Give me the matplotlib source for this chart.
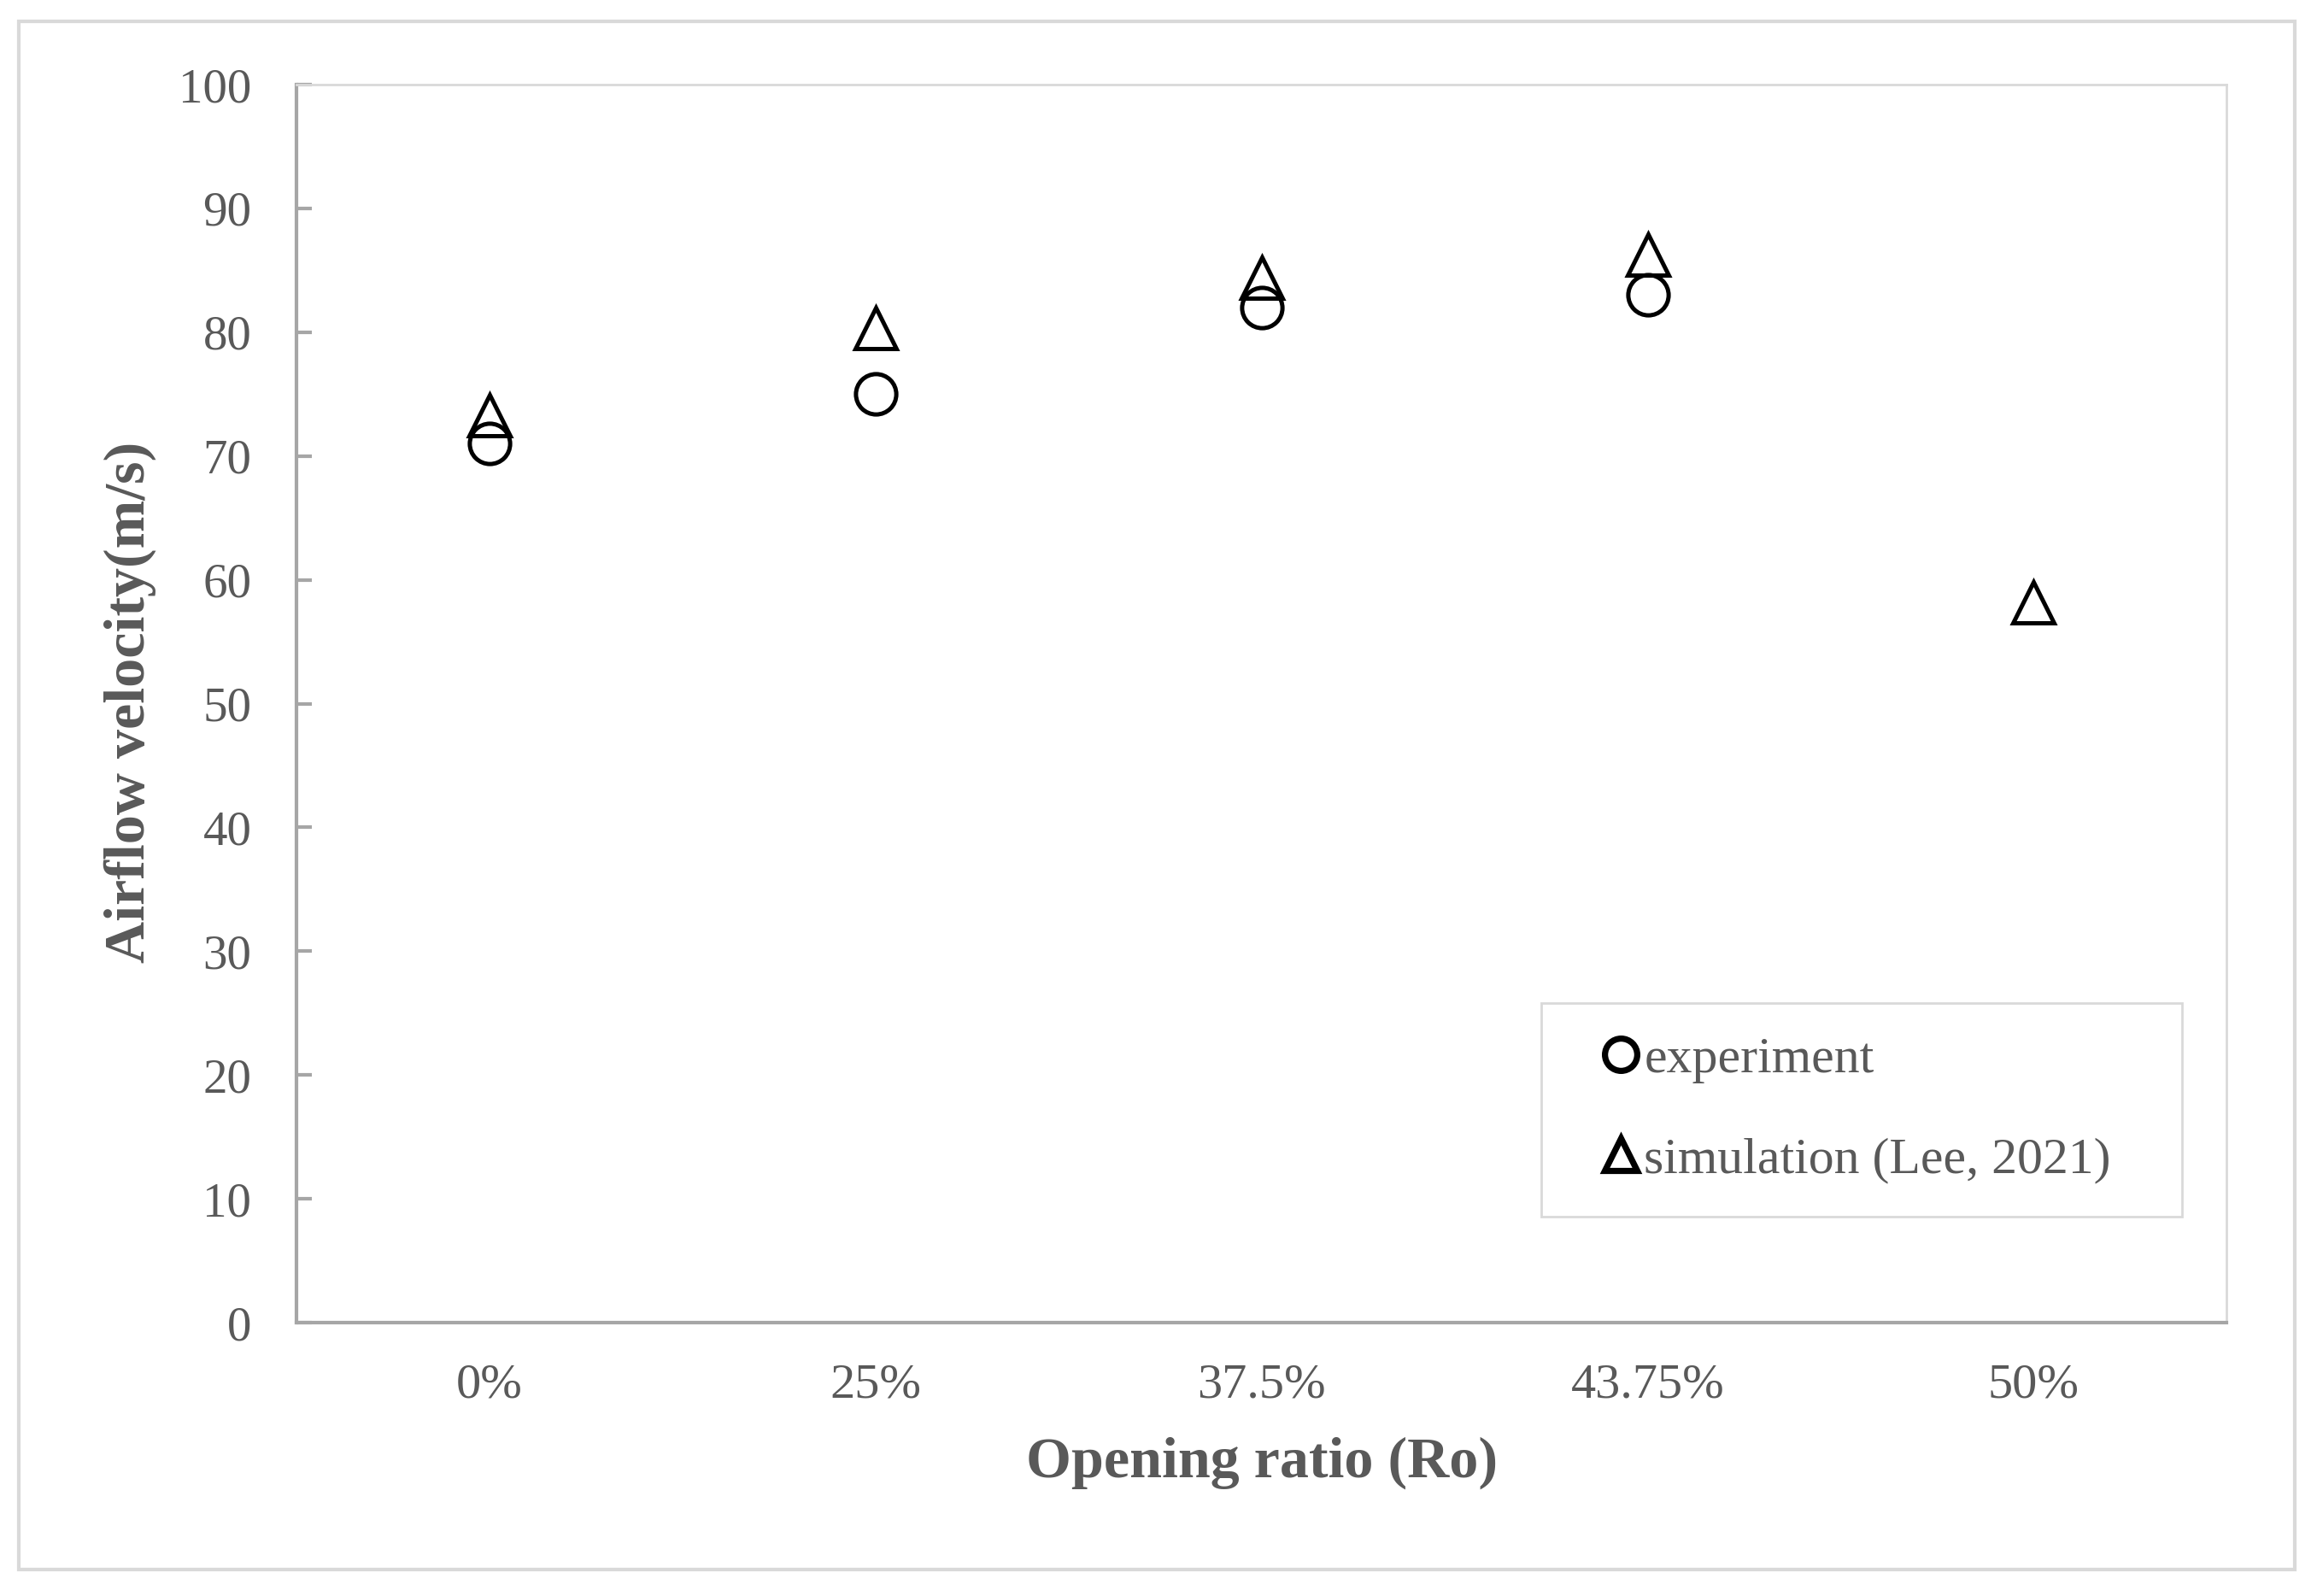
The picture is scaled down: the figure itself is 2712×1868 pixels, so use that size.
import matplotlib
matplotlib.use("Agg")
import matplotlib.pyplot as plt
from matplotlib.patches import Rectangle
import numpy as np

categories = ["0%", "25%", "37.5%", "43.75%", "50%"]
experiment = [71.0, 75.0, 82.0, 83.0, np.nan]
simulation = [73.3, 80.3, 84.4, 86.3, 58.2]
yticks = [0, 10, 20, 30, 40, 50, 60, 70, 80, 90, 100]

plt.rcParams['font.family'] = ['Liberation Serif', 'DejaVu Serif']
gray_text = '#595959'

fig = plt.figure(figsize=(13.56, 9.34), dpi=200)
ax = fig.add_axes([0.128, 0.1713, 0.833, 0.7757])

x = np.arange(len(categories))
ax.plot(x, experiment, linestyle='none', marker='o', markersize=17,
        markerfacecolor='none', markeredgecolor='black', markeredgewidth=1.8,
        label='experiment', zorder=3)
ax.plot(x, simulation, linestyle='none', marker='^', markersize=17,
        markerfacecolor='none', markeredgecolor='black', markeredgewidth=1.8,
        label='simulation (Lee, 2021)', zorder=3)

ax.set_xlim(-0.5, len(categories) - 0.5)
ax.set_ylim(0, 100)
ax.set_xticks(x)
ax.set_xticklabels(categories)
ax.set_yticks(yticks)

ax.tick_params(axis='y', direction='in', length=6.5, width=1.5, color='#a6a6a6',
               labelsize=20.5, labelcolor=gray_text, pad=19)
ax.tick_params(axis='x', length=0, labelsize=21, labelcolor=gray_text, pad=17)

for s in ['left', 'bottom']:
    ax.spines[s].set_color('#a6a6a6')
    ax.spines[s].set_linewidth(1.5)
for s in ['top', 'right']:
    ax.spines[s].set_color('#d9d9d9')
    ax.spines[s].set_linewidth(1.0)

ax.set_xlabel('Opening ratio (Ro)', fontsize=24.5, fontweight='bold', color=gray_text, va='center')
ax.xaxis.set_label_coords(0.5, -0.113)
ax.set_ylabel('Airflow velocity(m/s)', fontsize=24.5, fontweight='bold', color=gray_text, va='center')
ax.yaxis.set_label_coords(-0.0863, 0.501)

leg = ax.legend(loc='upper left', bbox_to_anchor=(0.645, 0.095, 0.332, 0.163),
                mode='expand', fontsize=21.5, markerscale=0.8, borderpad=0.65,
                labelspacing=1.05, handlelength=1.8, handletextpad=-0.44,
                fancybox=False, framealpha=1, borderaxespad=0)
leg.get_frame().set_edgecolor('#d9d9d9')
leg.get_frame().set_linewidth(1.0)
for t in leg.get_texts():
    t.set_color(gray_text)
for h in leg.legend_handles:
    h.set_markeredgewidth(2.6)

fig.patches.append(Rectangle((0.0081, 0.0166), 0.9823, 0.970, transform=fig.transFigure,
                             fill=False, edgecolor='#d9d9d9', linewidth=1.5))

fig.savefig('out.png', dpi=200)
